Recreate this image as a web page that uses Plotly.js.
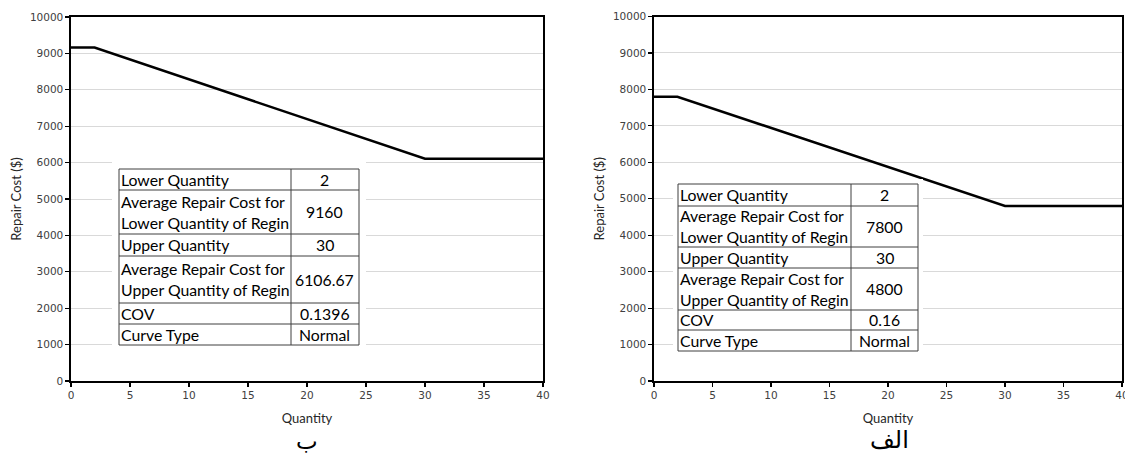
<!DOCTYPE html>
<html>
<head>
<meta charset="utf-8">
<script src="https://cdn.plot.ly/plotly-3.0.1.min.js"></script>
<style>html,body{margin:0;padding:0;background:#fff;}#chart{width:1125px;height:457px;}</style>
</head>
<body>
<div id="chart"></div>
<script>
// ---- data ----
const quantity = [0, 2, 30, 40];
const costB = [9160, 9160, 6106.67, 6106.67];      // left panel (ب)
const costAlef = [7800, 7800, 4800, 4800];         // right panel (الف)
const xTickVals = [0, 5, 10, 15, 20, 25, 30, 35, 40];
const yTickVals = [0, 1000, 2000, 3000, 4000, 5000, 6000, 7000, 8000, 9000, 10000];
const tableLabels = [
  ["Lower Quantity"],
  ["Average Repair Cost for", "Lower Quantity of Regin"],
  ["Upper Quantity"],
  ["Average Repair Cost for", "Upper Quantity of Regin"],
  ["COV"],
  ["Curve Type"]
];
const tableValuesB = ["2", "9160", "30", "6106.67", "0.1396", "Normal"];
const tableValuesAlef = ["2", "7800", "30", "4800", "0.16", "Normal"];
const panelLabelB = "ب";
const panelLabelAlef = "الف";
const xTitle = "Quantity";
const yTitle = "Repair Cost ($)";

// ---- layout helpers ----
const W = 1125, H = 457;
const px = x => x / W;
const py = y => 1 - y / H;

const shapes = [];
const annotations = [];

function addTable(cols, rows, labels, values, pad) {
  shapes.push({type: 'rect', xref: 'paper', yref: 'paper',
    x0: px(cols[0] - pad), x1: px(cols[2] + pad), y0: py(rows[rows.length - 1] + pad), y1: py(rows[0] - pad),
    fillcolor: '#ffffff', line: {width: 0}, layer: 'above'});
  const lc = '#3f3f3f';
  for (let i = 0; i < rows.length; i++) {
    shapes.push({type: 'line', xref: 'paper', yref: 'paper', x0: px(cols[0]), x1: px(cols[2]),
      y0: py(rows[i]), y1: py(rows[i]), line: {color: lc, width: 1}, layer: 'above'});
  }
  for (let j = 0; j < cols.length; j++) {
    shapes.push({type: 'line', xref: 'paper', yref: 'paper', x0: px(cols[j]), x1: px(cols[j]),
      y0: py(rows[0]), y1: py(rows[rows.length - 1]), line: {color: lc, width: 1}, layer: 'above'});
  }
  const f = {family: 'Lato, "Open Sans", sans-serif', size: 15.8, color: '#000000'};
  for (let i = 0; i < labels.length; i++) {
    const cy = (rows[i] + rows[i + 1]) / 2;
    const lines = labels[i];
    lines.forEach((t, k) => {
      const ly = cy + (k - (lines.length - 1) / 2) * 21;
      annotations.push({xref: 'paper', yref: 'paper', x: px(cols[0] - 0.5), y: py(ly - 0.5),
        xanchor: 'left', yanchor: 'middle', text: t, showarrow: false, font: f});
    });
    annotations.push({xref: 'paper', yref: 'paper', x: px((cols[1] + cols[2]) / 2), y: py(cy - 0.5),
      xanchor: 'center', yanchor: 'middle', text: values[i], showarrow: false, font: f});
  }
}

addTable([119, 291, 359], [169, 190, 234, 256, 303, 324, 345], tableLabels, tableValuesB, 7);
addTable([678, 851, 918], [184, 206, 247, 268, 310, 330, 351], tableLabels, tableValuesAlef, 5);

annotations.push({xref: 'paper', yref: 'paper', x: px(307), y: py(441), xanchor: 'center', yanchor: 'middle',
  text: panelLabelB, showarrow: false, font: {family: '"DejaVu Sans", sans-serif', size: 23, color: '#000'}});
annotations.push({xref: 'paper', yref: 'paper', x: px(889), y: py(440), xanchor: 'center', yanchor: 'middle',
  text: panelLabelAlef, showarrow: false, font: {family: '"DejaVu Sans", sans-serif', size: 24, color: '#000'}});

const tickFont = {family: 'Verdana, "DejaVu Sans", sans-serif', size: 10.5, color: '#404040'};
const titleFont = {family: 'Lato, "Open Sans", sans-serif', size: 13, color: '#262626'};

function xAxis(domain) {
  return {domain: domain, range: [0, 40], tickvals: xTickVals, ticks: 'outside', ticklen: 4, tickwidth: 1.2,
    tickcolor: '#000', showline: true, linecolor: '#000', linewidth: 1.6, mirror: true, showgrid: false,
    zeroline: false, tickfont: tickFont, fixedrange: true, ticklabeloverflow: 'allow',
    title: {text: xTitle, font: titleFont, standoff: 13}};
}
function yAxis(domain, anchor) {
  return {domain: domain, anchor: anchor, range: [0, 10000], tickvals: yTickVals, tickformat: 'd',
    ticks: 'outside', ticklen: 4,
    tickwidth: 1.2, tickcolor: '#000', showline: true, linecolor: '#000', linewidth: 1.6, mirror: true,
    showgrid: true, gridcolor: '#d9d9d9', gridwidth: 1, zeroline: false, tickfont: tickFont, fixedrange: true,
    title: {text: yTitle, font: titleFont, standoff: 5}};
}

const traces = [
  {x: quantity, y: costB, xaxis: 'x', yaxis: 'y', type: 'scatter', mode: 'lines',
   line: {color: '#000000', width: 2.5}, hoverinfo: 'skip'},
  {x: quantity, y: costAlef, xaxis: 'x2', yaxis: 'y2', type: 'scatter', mode: 'lines',
   line: {color: '#000000', width: 2.5}, hoverinfo: 'skip'}
];

const layout = {
  width: W, height: H,
  margin: {l: 0, r: 0, t: 0, b: 0},
  paper_bgcolor: '#ffffff', plot_bgcolor: '#ffffff',
  showlegend: false,
  xaxis: xAxis([px(71), px(543)]),
  yaxis: yAxis([py(381), py(17)], 'x'),
  xaxis2: Object.assign(xAxis([px(654), px(1122)]), {anchor: 'y2'}),
  yaxis2: yAxis([py(381), py(16.5)], 'x2'),
  shapes: shapes,
  annotations: annotations
};
layout.xaxis.anchor = 'y';

Plotly.newPlot('chart', traces, layout, {staticPlot: true, displayModeBar: false});
</script>
</body>
</html>
